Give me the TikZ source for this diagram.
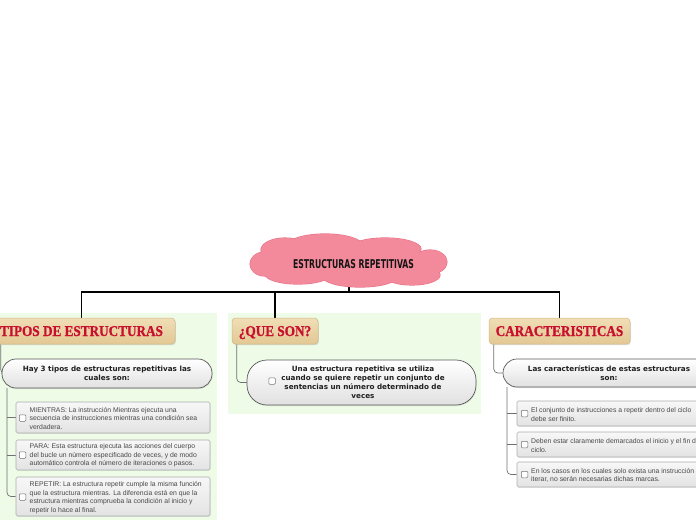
\documentclass[tikz,border=0pt]{standalone}
\usepackage{fontspec}
\setmainfont{Liberation Sans}
\newfontfamily\titlefont{Liberation Serif}[BoldFeatures={FakeBold=1.2}]
\newfontfamily\pillfont{DejaVu Sans}
\newfontfamily\cloudfont{DejaVu Sans}
\usetikzlibrary{shadows,backgrounds}
\definecolor{cloudpink}{HTML}{F38A9B}
\definecolor{cloudrim}{HTML}{E67488}
\definecolor{titlered}{HTML}{C8102E}
\definecolor{tanA}{HTML}{F0DEB6}
\definecolor{tanB}{HTML}{E2C894}
\definecolor{tanD}{HTML}{D2B784}
\definecolor{panelgreen}{HTML}{EDFBE7}
\definecolor{linegray}{HTML}{707070}
\definecolor{itemtxt}{HTML}{484848}
\begin{document}
\begin{tikzpicture}[x=1pt,y=-1pt,
  mainline/.style={draw=black,line width=1.2pt},
  subline/.style={draw=linegray,line width=0.7pt,rounded corners=4pt},
  titlebox/.style={rounded corners=3.5pt,top color=tanA,bottom color=tanB,draw=tanD,line width=0.5pt,
    drop shadow={opacity=0.25,shadow xshift=0.8pt,shadow yshift=-1.2pt},minimum height=26pt,inner sep=0pt,
    font=\titlefont\bfseries\fontsize{15}{15}\selectfont,text=titlered,text height=10pt,text depth=0pt},
  pill/.style={top color=white,bottom color=black!12,draw=black!65,line width=0.7pt,
    drop shadow={opacity=0.2,shadow xshift=0.6pt,shadow yshift=-1pt},inner sep=0pt,
    font=\pillfont\bfseries\fontsize{7.2}{9.2}\selectfont,text=black!88,align=center},
  itembox/.style={rounded corners=1.5pt,top color=black!3,bottom color=black!11,draw=black!32,line width=0.6pt,
    inner sep=0pt,drop shadow={opacity=0.15,shadow xshift=0.5pt,shadow yshift=-0.8pt}},
  itemtext/.style={font=\fontsize{6.85}{8.5}\selectfont,text=itemtxt,align=left,anchor=west,inner sep=0pt},
  chk/.style={draw=black!55,fill=white,rounded corners=1pt,minimum size=6.5pt,inner sep=0pt,line width=0.5pt}
]
\useasboundingbox (0,0) rectangle (696,520);
\clip (0,0) rectangle (696,520);

% cloud
\node[minimum width=196pt,minimum height=52pt,inner sep=0pt] (cloud) at (349,261) {};
\foreach \cx/\cy/\rx/\ry in {265/264/15/12,285/250/24/12,325/246/38/12,385/249/36/11,430/262/17/12,412/275/28/10,360/276/38/11,298/274/33/10,349/262/85/16}
  \draw[cloudrim,line width=1.2pt] (\cx,\cy) ellipse [x radius=\rx, y radius=\ry];
\foreach \cx/\cy/\rx/\ry in {265/264/15/12,285/250/24/12,325/246/38/12,385/249/36/11,430/262/17/12,412/275/28/10,360/276/38/11,298/274/33/10,349/262/85/16}
  \fill[cloudpink] (\cx,\cy) ellipse [x radius=\rx, y radius=\ry];
\node[inner sep=0pt,text=black!92] (cloudtext) at (353.5,263.8)
  {\resizebox{121pt}{9pt}{\cloudfont\bfseries ESTRUCTURAS REPETITIVAS}};

% titles
\node[titlebox,minimum width=187pt] (tipos) at (81.5,331) {\scalebox{0.88}[1]{TIPOS DE ESTRUCTURAS}};
\node[titlebox,minimum width=86pt] (que) at (275,331) {\scalebox{0.88}[1]{¿QUE SON?}};
\node[titlebox,minimum width=141pt] (caract) at (559.5,331) {\scalebox{0.88}[1]{CARACTERISTICAS}};

% pills
\node[pill,rounded corners=14pt,minimum width=210pt,minimum height=29pt] (hay) at (107,373.5)
  {Hay 3 tipos de estructuras repetitivas las\\cuales son:};
\node[pill,rounded corners=20pt,minimum width=229pt,minimum height=45pt] (una) at (361.5,382.5)
  {\hspace*{3pt}Una estructura repetitiva se utiliza\\\hspace*{3pt}cuando se quiere repetir un conjunto de\\\hspace*{3pt}sentencias un número determinado de\\\hspace*{3pt}veces};
\node[chk] (c0) at (272,381) {};
\node[pill,rounded corners=14pt,minimum width=212pt,minimum height=28pt] (las) at (609,373)
  {Las características de estas estructuras\\son:};

% left items
\node[itembox,minimum width=194pt,minimum height=31pt] (i1) at (113,417.5) {};
\node[itembox,minimum width=194pt,minimum height=30pt] (i2) at (113,455) {};
\node[itembox,minimum width=194pt,minimum height=39pt] (i3) at (113,496.5) {};
\node[chk] (c1) at (22.5,418) {};
\node[chk] (c2) at (22.5,455) {};
\node[chk] (c3) at (22.5,497) {};
\node[itemtext] (t1) at (29.5,418.5) {MIENTRAS: La instrucción Mientras ejecuta una\\secuencia de instrucciones mientras una condición sea\\verdadera.};
\node[itemtext] (t2) at (29.5,455.5) {PARA: Esta estructura ejecuta las acciones del cuerpo\\del bucle un número especificado de veces, y de modo\\automático controla el número de iteraciones o pasos.};
\node[itemtext] (t3) at (29.5,497.5) {REPETIR: La estructura repetir cumple la misma función\\que la estructura mientras. La diferencia está en que la\\estructura mientras comprueba la condición al inicio y\\repetir lo hace al final.};

% right items
\node[itembox,minimum width=206pt,minimum height=25pt] (r1) at (620,413.5) {};
\node[itembox,minimum width=206pt,minimum height=25pt] (r2) at (620,444.5) {};
\node[itembox,minimum width=206pt,minimum height=25pt] (r3) at (620,474.5) {};
\node[chk] (d1) at (524.5,413.5) {};
\node[chk] (d2) at (524.5,444.5) {};
\node[chk] (d3) at (524.5,474.5) {};
\node[itemtext] (u1) at (531,414.5) {El conjunto de instrucciones a repetir dentro del ciclo\\debe ser finito.};
\node[itemtext] (u2) at (531,445.5) {Deben estar claramente demarcados el inicio y el fin del\\ciclo.};
\node[itemtext] (u3) at (531,475.5) {En los casos en los cuales solo exista una instrucción a\\iterar, no serán necesarias dichas marcas.};

\coordinate (bus) at (349,292);
\coordinate (lv) at (7,388);
\coordinate (rv) at (507,387);

\begin{scope}[on background layer]
  \fill[panelgreen] (0,313) rectangle (217,520);
  \fill[panelgreen] (228,313) rectangle (481,414);
  \draw[mainline] (cloud.south) -- (bus);
  \draw[mainline] (tipos.north) |- (bus) -| (caract.north);
  \draw[mainline] (que.north) -- (que.north |- bus);
  \draw[subline] ([xshift=13pt]tipos.south west) |- (hay.west);
  \draw[subline] ([xshift=5pt]que.south west) |- (una.west);
  \draw[subline] ([xshift=5pt]caract.south west) |- (las.west);
  \draw[subline] (lv) |- (i3.west);
  \draw[subline] (i1.west -| lv) -- (i1.west);
  \draw[subline] (i2.west -| lv) -- (i2.west);
  \draw[subline] (rv) |- (r3.west);
  \draw[subline] (r1.west -| rv) -- (r1.west);
  \draw[subline] (r2.west -| rv) -- (r2.west);
\end{scope}
\end{tikzpicture}
\end{document}
